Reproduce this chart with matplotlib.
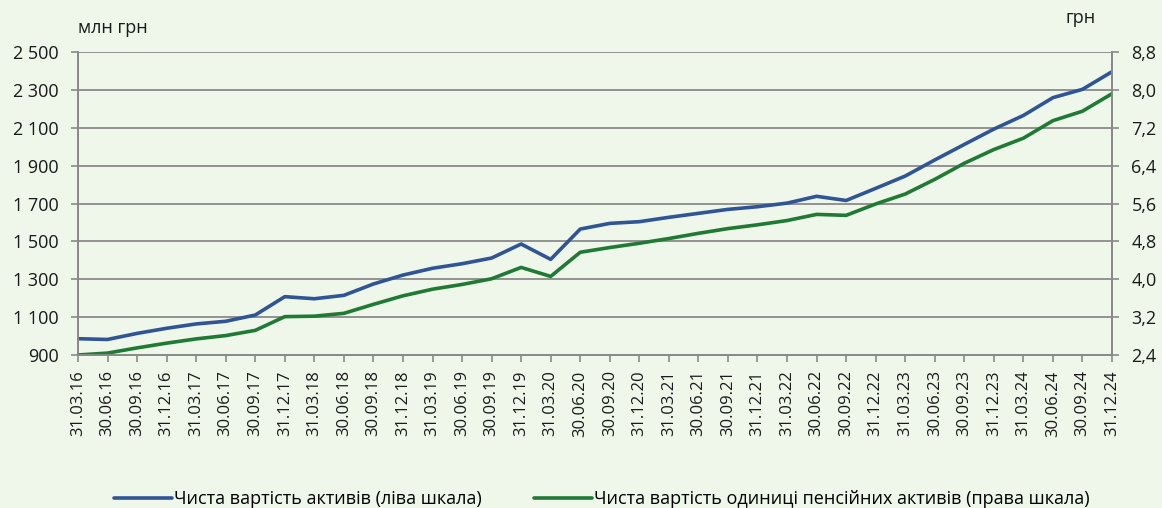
import matplotlib.pyplot as plt
import numpy as np

# Quarter-end dates
dates = ['31.03.16', '30.06.16', '30.09.16', '31.12.16',
         '31.03.17', '30.06.17', '30.09.17', '31.12.17',
         '31.03.18', '30.06.18', '30.09.18', '31.12.18',
         '31.03.19', '30.06.19', '30.09.19', '31.12.19',
         '31.03.20', '30.06.20', '30.09.20', '31.12.20',
         '31.03.21', '30.06.21', '30.09.21', '31.12.21',
         '31.03.22', '30.06.22', '30.09.22', '31.12.22',
         '31.03.23', '30.06.23', '30.09.23', '31.12.23',
         '31.03.24', '30.06.24', '30.09.24', '31.12.24']

# Net asset value, mln UAH (left scale)
net_assets = [986, 982, 1014, 1041, 1064, 1078, 1111, 1208,
              1197, 1215, 1275, 1322, 1358, 1382, 1412, 1486,
              1405, 1565, 1595, 1604, 1627, 1648, 1669, 1683,
              1702, 1738, 1716, 1780, 1845, 1930, 2012, 2093,
              2165, 2259, 2303, 2396]

# Net value of pension asset unit, UAH (right scale)
unit_value = [2.40, 2.44, 2.55, 2.65, 2.74, 2.81, 2.92, 3.21,
              3.22, 3.28, 3.47, 3.65, 3.79, 3.89, 4.01, 4.25,
              4.06, 4.57, 4.67, 4.76, 4.86, 4.97, 5.07, 5.15,
              5.24, 5.37, 5.35, 5.59, 5.80, 6.11, 6.45, 6.74,
              6.98, 7.35, 7.55, 7.92]

left_ticks = [900, 1100, 1300, 1500, 1700, 1900, 2100, 2300, 2500]
left_labels = ['900', '1 100', '1 300', '1 500', '1 700', '1 900', '2 100', '2 300', '2 500']
right_ticks = [2.4, 3.2, 4.0, 4.8, 5.6, 6.4, 7.2, 8.0, 8.8]
right_labels = ['2,4', '3,2', '4,0', '4,8', '5,6', '6,4', '7,2', '8,0', '8,8']

bg = '#eff6ea'
grid_col = '#8a8a8a'
blue = '#2f5597'
green = '#1f7a34'
txt = '#1a1a1a'

plt.rcParams['font.family'] = ['Open Sans', 'DejaVu Sans']

fig = plt.figure(figsize=(11.62, 5.08), dpi=100, facecolor=bg)
ax = fig.add_axes([0.0671, 0.3012, 0.8899, 0.5964])
ax.set_facecolor(bg)
ax2 = ax.twinx()

x = np.arange(len(dates))
l1, = ax.plot(x, net_assets, color=blue, lw=2.6, solid_capstyle='round')
l2, = ax2.plot(x, unit_value, color=green, lw=2.6, solid_capstyle='round')

ax.set_xlim(0, len(dates) - 1)
ax.set_ylim(900, 2500)
ax2.set_ylim(2.4, 8.8)

ax.set_yticks(left_ticks)
ax.set_yticklabels(left_labels)
ax2.set_yticks(right_ticks)
ax2.set_yticklabels(right_labels)
ax.set_xticks(x)
ax.set_xticklabels(dates, rotation=90)

ax.grid(axis='y', color=grid_col, lw=1.3)
ax.set_axisbelow(True)

for a in (ax, ax2):
    a.spines['top'].set_visible(False)
    for s in ('left', 'right', 'bottom'):
        a.spines[s].set_color(grid_col)
        a.spines[s].set_linewidth(1.3)
    a.tick_params(colors=grid_col, labelcolor=txt, labelsize=13,
                  length=5, width=1.2)
ax.tick_params(axis='y', pad=9)
ax2.tick_params(axis='y', pad=9)
ax.tick_params(axis='x', labelsize=12, pad=6)

fig.text(0.067, 0.945, 'млн грн', fontsize=13, color=txt, ha='left', va='center')
fig.text(0.943, 0.965, 'грн', fontsize=13, color=txt, ha='right', va='center')

fig.legend([l1, l2],
           ['Чиста вартість активів (ліва шкала)',
            'Чиста вартість одиниці пенсійних активів (права шкала)'],
           loc='center', bbox_to_anchor=(0.518, 0.018), ncol=2, frameon=False,
           fontsize=13, handlelength=3.2, handletextpad=0.1, columnspacing=2.9)

fig.savefig('out.png', dpi=100, facecolor=bg)
